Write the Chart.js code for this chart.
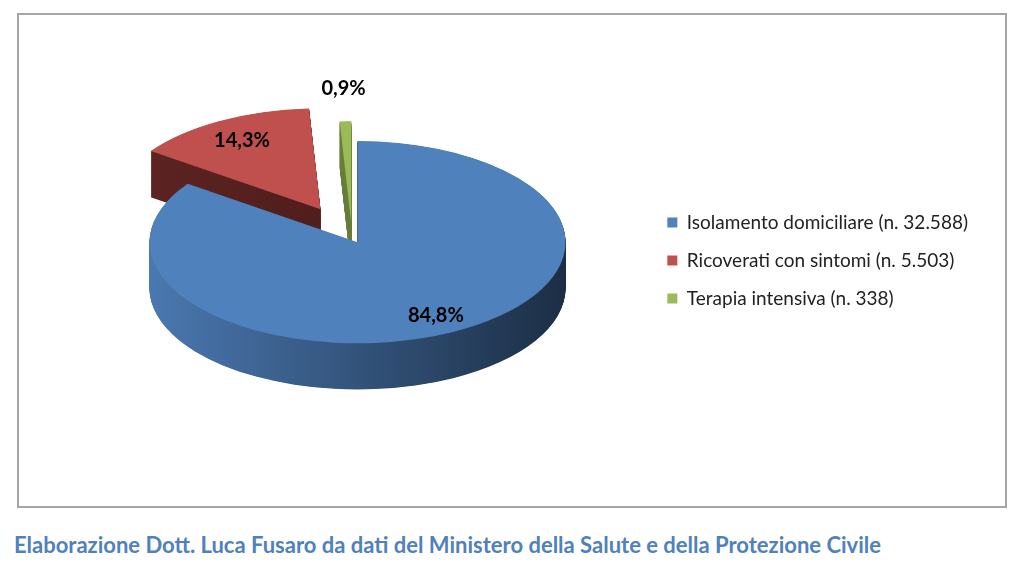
<!DOCTYPE html>
<html>
<head>
<meta charset="utf-8">
<script src="https://cdn.jsdelivr.net/npm/chart.js@4"></script>
<style>
  html, body { margin: 0; padding: 0; background: #fff; }
  body { width: 1024px; height: 567px; position: relative; overflow: hidden; }
  #frame {
    position: absolute; left: 17px; top: 13px; width: 990px; height: 495px;
    box-sizing: border-box; border: 2px solid #a6a6a6; background: #fff;
  }
  #note {
    position: absolute; left: 14px; top: 531px;
    font: bold 22px Lato, "Open Sans", sans-serif; color: #4f81bd;
  }
</style>
</head>
<body>
<div id="frame"><canvas id="pieChart"></canvas></div>
<div id="note">Elaborazione Dott. Luca Fusaro da dati del Ministero della Salute e della Protezione Civile</div>
<script>
// dati
var categorie = ['Isolamento domiciliare (n. 32.588)', 'Ricoverati con sintomi (n. 5.503)', 'Terapia intensiva (n. 338)'];
var casi = [32588, 5503, 338];

// stile
var coloriTop = ['#4f81bd', '#c0504d', '#9bbb59'];
var coloriLato = [['#4a78b0', '#1c2e45'], ['#5e2422', '#421817'], ['#7f9c47', '#4b5e27']];
var esplosione = [12, 65, 30];     // spostamento delle fette
var posEtichetta = [0.82, 0.78, 1.32];
var CENTRO_X = 333, CENTRO_Y = 222; // coordinate del canvas
var INCLINA = 0.486, SPESSORE = 95;
var ordine = [1, 2, 0];

function percento(v) {
    var tot = casi.reduce(function(a, b) { return a + b; }, 0);
    return (v / tot * 100).toFixed(1).replace('.', ',') + '%';
}

var torta3d = {
    id: 'torta3d',
    beforeDatasetsDraw: function(chart) {
        var ctx = chart.ctx;
        var archi = chart.getDatasetMeta(0).data;
        var cx = archi[0].x, cy = archi[0].y, r = archi[0].outerRadius;
        ctx.save();
        ctx.translate(CENTRO_X - cx, CENTRO_Y);
        ctx.scale(1, INCLINA);
        ctx.translate(0, -cy);
        ordine.forEach(function(i) {
            var arco = archi[i];
            var meta = (arco.startAngle + arco.endAngle) / 2;
            var ex = Math.cos(meta) * esplosione[i];
            var ey = Math.sin(meta) * esplosione[i];
            var opz = arco.options;
            var grad = ctx.createLinearGradient(cx - r, 0, cx + r, 0);
            grad.addColorStop(0, coloriLato[i][0]);
            grad.addColorStop(1, coloriLato[i][1]);
            arco.options = Object.assign({}, opz, { backgroundColor: grad });
            for (var d = SPESSORE; d > 0; d--) {
                ctx.save();
                ctx.translate(ex, ey + d);
                arco.draw(ctx);
                ctx.restore();
            }
            arco.options = opz;
            ctx.save();
            ctx.translate(ex, ey);
            arco.draw(ctx);
            ctx.restore();
        });
        ctx.restore();
        return false;
    },
    afterDraw: function(chart) {
        var ctx = chart.ctx;
        var archi = chart.getDatasetMeta(0).data;
        var cx = archi[0].x, cy = archi[0].y, r = archi[0].outerRadius;
        ctx.save();
        ctx.font = 'bold 20px Lato, sans-serif';
        ctx.fillStyle = '#000';
        ctx.textAlign = 'center';
        ctx.textBaseline = 'middle';
        archi.forEach(function(arco, i) {
            var meta = (arco.startAngle + arco.endAngle) / 2;
            var dist = r * posEtichetta[i] + esplosione[i];
            var x = cx + Math.cos(meta) * dist + (CENTRO_X - cx);
            var y = CENTRO_Y + Math.sin(meta) * dist * INCLINA;
            ctx.fillText(percento(casi[i]), x, y);
        });
        ctx.restore();
    }
};

var ctx = document.getElementById('pieChart').getContext('2d');
var myChart = new Chart(ctx, {
    type: 'pie',
    data: {
        labels: categorie,
        datasets: [{
            data: casi,
            backgroundColor: coloriTop,
            borderWidth: 0,
            radius: 208
        }]
    },
    options: {
        responsive: true,
        maintainAspectRatio: false,
        animation: false,
        events: [],
        layout: { padding: { right: 27 } },
        plugins: {
            tooltip: { enabled: false },
            legend: {
                position: 'right',
                labels: {
                    boxWidth: 10,
                    boxHeight: 10,
                    padding: 19,
                    color: '#222',
                    font: { family: 'Lato', size: 19 }
                }
            }
        }
    },
    plugins: [torta3d]
});
</script>
</body>
</html>
